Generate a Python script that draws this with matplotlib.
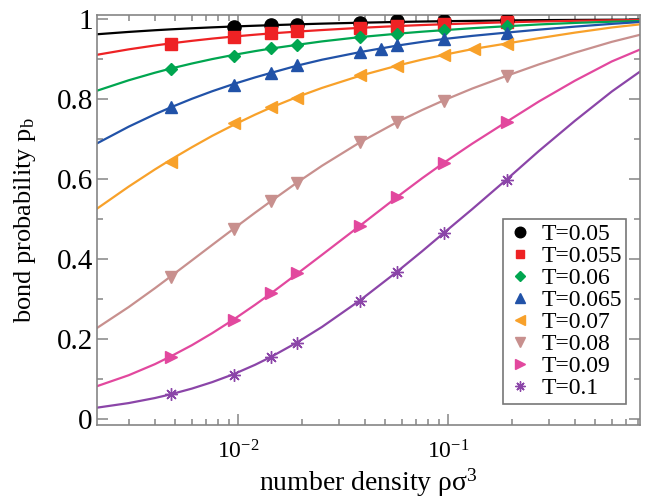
import numpy as np
import matplotlib
matplotlib.use("Agg")
import matplotlib.pyplot as plt
from matplotlib.ticker import FixedLocator, LogLocator, NullFormatter, FixedFormatter

plt.rcParams['font.family'] = ['Liberation Serif', 'DejaVu Serif']
plt.rcParams['mathtext.fontset'] = 'custom'
plt.rcParams['mathtext.rm'] = 'Liberation Serif'
plt.rcParams['mathtext.it'] = 'Liberation Serif:italic'
plt.rcParams['axes.unicode_minus'] = False

# temperatures and their simulation points
temps = ["T=0.05", "T=0.055", "T=0.06", "T=0.065", "T=0.07", "T=0.08", "T=0.09", "T=0.1"]

rho_sim = [0.00475, 0.0095, 0.01425, 0.019, 0.038, 0.057, 0.095, 0.19]
rho_sim_black = [0.0095, 0.01425, 0.019, 0.038, 0.057, 0.095, 0.19]
rho_sim_blue = [0.00475, 0.0095, 0.01425, 0.019, 0.038, 0.0475, 0.057, 0.095, 0.19]
rho_sim_orange = [0.00475, 0.0095, 0.01425, 0.019, 0.038, 0.057, 0.095, 0.133, 0.19]

pb_005 = [0.981, 0.986, 0.986, 0.992, 0.995, 0.997, 0.999]
pb_0055 = [0.939, 0.956, 0.967, 0.970, 0.979, 0.984, 0.988, 0.993]
pb_006 = [0.877, 0.909, 0.929, 0.935, 0.956, 0.964, 0.973, 0.984]
pb_0065 = [0.780, 0.837, 0.866, 0.886, 0.918, 0.927, 0.935, 0.951, 0.967]
pb_007 = [0.643, 0.740, 0.781, 0.803, 0.860, 0.884, 0.912, 0.927, 0.939]
pb_008 = [0.356, 0.477, 0.545, 0.592, 0.693, 0.743, 0.797, 0.859]
pb_009 = [0.156, 0.249, 0.316, 0.366, 0.483, 0.556, 0.641, 0.744]
pb_01 = [0.063, 0.112, 0.156, 0.191, 0.297, 0.368, 0.466, 0.598]

# theory curves
rho_th = [0.0021, 0.003, 0.004, 0.00475, 0.006, 0.0075, 0.0095, 0.012, 0.01425, 0.019, 0.025,
          0.038, 0.057, 0.075, 0.095, 0.13, 0.19, 0.27, 0.4, 0.6, 0.82]
th_005 = [0.9627, 0.9687, 0.9729, 0.9751, 0.9778, 0.9801, 0.9823, 0.9842, 0.9855, 0.9876, 0.9894,
          0.9917, 0.9936, 0.9947, 0.9955, 0.9964, 0.9974, 0.9981, 0.9987, 0.9992, 0.9994]
th_0055 = [0.9112, 0.9251, 0.9348, 0.9400, 0.9464, 0.9520, 0.9572, 0.9618, 0.9649, 0.9695, 0.9734,
           0.9789, 0.9833, 0.9859, 0.9878, 0.9902, 0.9928, 0.9947, 0.9965, 0.9977, 0.9984]
th_006 = [0.8210, 0.8478, 0.8667, 0.8770, 0.8897, 0.9008, 0.9113, 0.9207, 0.9270, 0.9364, 0.9450,
          0.9558, 0.9642, 0.9693, 0.9731, 0.9780, 0.9830, 0.9874, 0.9912, 0.9942, 0.9961]
th_0065 = [0.6889, 0.7318, 0.7628, 0.7799, 0.8015, 0.8204, 0.8386, 0.8550, 0.8661, 0.8843, 0.8992,
           0.9183, 0.9345, 0.9438, 0.9509, 0.9588, 0.9671, 0.9744, 0.9819, 0.9888, 0.9935]
th_007 = [0.5253, 0.5820, 0.6249, 0.6491, 0.6804, 0.7089, 0.7364, 0.7619, 0.7793, 0.8059, 0.8287,
          0.8592, 0.8843, 0.8996, 0.9113, 0.9257, 0.9399, 0.9530, 0.9669, 0.9798, 0.9877]
th_008 = [0.2271, 0.2808, 0.3279, 0.3572, 0.3975, 0.4362, 0.4769, 0.5167, 0.5452, 0.5919, 0.6341,
          0.6930, 0.7434, 0.7735, 0.7976, 0.8272, 0.8592, 0.8876, 0.9167, 0.9439, 0.9617]
th_009 = [0.0823, 0.1104, 0.1381, 0.1573, 0.1855, 0.2156, 0.2500, 0.2865, 0.3146, 0.3638, 0.4114,
          0.4846, 0.5561, 0.6030, 0.6414, 0.6895, 0.7445, 0.7949, 0.8466, 0.8949, 0.9249]
th_01 = [0.0290, 0.0408, 0.0534, 0.0626, 0.0770, 0.0932, 0.1132, 0.1365, 0.1559, 0.1922, 0.2312,
         0.2979, 0.3694, 0.4205, 0.4660, 0.5259, 0.6005, 0.6712, 0.7463, 0.8197, 0.8700]

colors = ['#000000', '#ee2224', '#00a650', '#2152a8', '#f8a12a', '#c8908e', '#e2489e', '#8b45a8']
markers = ['o', 's', 'D', '^', '<', 'v', '>', (8, 2, 0)]
msizes = [9.5, 8, 6.5, 8.5, 8.5, 8.5, 8.5, 9]

sims = [(rho_sim_black, pb_005), (rho_sim, pb_0055), (rho_sim, pb_006), (rho_sim_blue, pb_0065),
        (rho_sim_orange, pb_007), (rho_sim, pb_008), (rho_sim, pb_009), (rho_sim, pb_01)]
theory = [th_005, th_0055, th_006, th_0065, th_007, th_008, th_009, th_01]

fig = plt.figure(figsize=(6.45, 5.0), dpi=100)
ax = fig.add_axes([0.1504, 0.15, 0.8426, 0.82])

for i in range(len(temps)):
    ax.plot(rho_th, theory[i], '-', color=colors[i], lw=1.6, zorder=2)
    xs, ys = sims[i]
    ax.plot(xs, ys, linestyle='none', marker=markers[i], color=colors[i],
            markersize=msizes[i], markeredgewidth=1.0, label=temps[i], zorder=3)

ax.set_xscale('log')
ax.set_xlim(0.00212, 0.822)
ax.set_ylim(-0.014, 1.011)

ax.xaxis.set_major_locator(FixedLocator([0.01, 0.1]))
ax.xaxis.set_major_formatter(FixedFormatter([r'10$^{-2}$', r'10$^{-1}$']))
ax.xaxis.set_minor_locator(LogLocator(base=10, subs=np.arange(2, 10)))
ax.xaxis.set_minor_formatter(NullFormatter())
ax.set_yticks([0, 0.2, 0.4, 0.6, 0.8, 1.0])
ax.set_yticklabels(['0', '0.2', '0.4', '0.6', '0.8', '1'])
ax.set_yticks([0.1, 0.3, 0.5, 0.7, 0.9], minor=True)

gray = '#858585'
for s in ax.spines.values():
    s.set_color(gray)
    s.set_linewidth(1.2)
ax.tick_params(which='both', direction='in', top=True, right=True, color=gray, width=1.1)
ax.tick_params(which='major', length=8)
ax.tick_params(which='minor', length=4)
ax.tick_params(axis='y', which='major', labelsize=21, pad=3)
ax.tick_params(axis='x', which='major', labelsize=17, pad=11)

ax.set_xlabel(r'number density ρσ$^3$', fontsize=20, labelpad=2)
ax.set_ylabel(r'bond probability p$_\mathrm{b}$', fontsize=19, labelpad=13)

leg = ax.legend(loc='upper left', bbox_to_anchor=(0.7476, 0.502), borderaxespad=0,
                fontsize=17, frameon=True, fancybox=False, numpoints=1,
                handlelength=1.0, handletextpad=0.4, labelspacing=0.02,
                borderpad=0.2, markerscale=0.8)
leg.get_frame().set_edgecolor('#555555')
leg.get_frame().set_linewidth(1.2)

fig.savefig('out.png', dpi=100)
